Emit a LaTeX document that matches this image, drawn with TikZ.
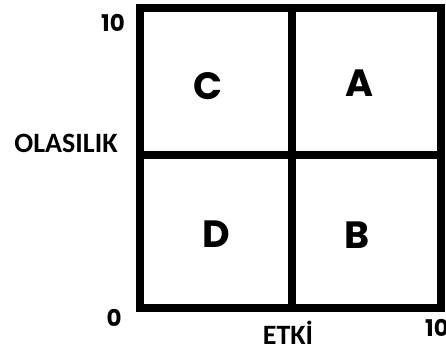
\documentclass[tikz,border=0pt]{standalone}
\usepackage{fontspec}
\setmainfont{Carlito}
\newfontfamily\geofont{Poppins}
\usetikzlibrary{positioning}

\begin{document}
\begin{tikzpicture}[
        x=1pt, y=-1pt,
        frame/.style={draw=black, line width=8pt},
        quad/.style={font=\geofont\bfseries\fontsize{38}{38}\selectfont},
        tick/.style={font=\geofont\bfseries\fontsize{23}{23}\selectfont},
        axis/.style={font=\bfseries\fontsize{28}{28}\selectfont}
    ]
        \useasboundingbox (0,0) rectangle (446,344);

        % ================= MATRIS =================
        \coordinate (sw) at (140,308);
        \coordinate (ne) at (441,8);
        \coordinate (mid) at (292,155);

        \draw[frame] (sw) rectangle (ne);
        \draw[frame] (sw -| mid) -- (ne -| mid);
        \draw[frame] (sw |- mid) -- (ne |- mid);

        % ================= BOLGELER =================
        \node[quad] (qC) at (208,86) {C};
        \node[quad] (qA) at (359,83) {A};
        \node[quad] (qD) at (216,234) {D};
        \node[quad] (qB) at (357,235) {B};

        % ================= EKSENLER =================
        \node[tick] (ymax) at (113,23) {10};
        \node[tick] (orig) at (114,318) {0};
        \node[tick] (xmax) at (437,328) {10};
        \node[axis] (yname) at (66,143) {OLASILIK};
        \node[axis] (xname) at (288,333) {ETKİ};

    \end{tikzpicture}
\end{document}
